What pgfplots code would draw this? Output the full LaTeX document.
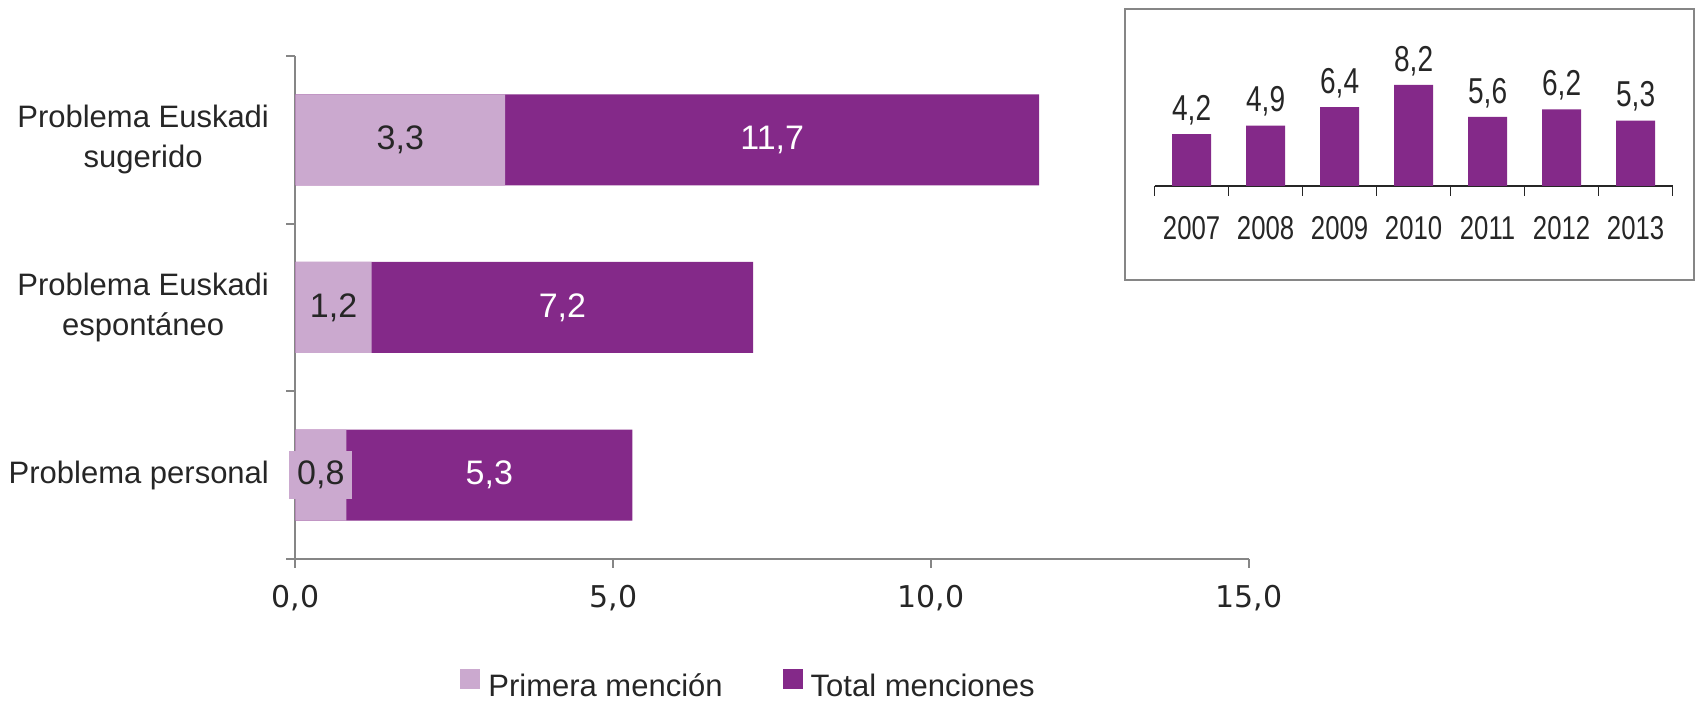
\documentclass[border=0pt]{standalone}
\usepackage{fontspec}
\setmainfont{Liberation Sans}
\newfontfamily\cond{Liberation Sans}[FakeStretch=0.78]
\newfontfamily\dvs{DejaVu Sans}
\usepackage{pgfplots}
\usepackage{pgfplotstable}
\pgfplotsset{compat=1.18}
\pgfkeys{/pgf/number format/.cd, use comma, fixed, fixed zerofill, precision=1, assume math mode=true}

\definecolor{moradoOsc}{RGB}{132,41,137}
\definecolor{moradoCla}{RGB}{203,169,207}
\definecolor{ejeGris}{RGB}{134,134,134}
\definecolor{texto}{RGB}{38,38,38}

% menciones: primera y total
\pgfplotstableread{
y prim tot
0 0.8 5.3
1 1.2 7.2
2 3.3 11.7
}\menciones

% serie anual (recuadro)
\pgfplotstableread{
x val
0 4.2
1 4.9
2 6.4
3 8.2
4 5.6
5 6.2
6 5.3
}\serie

\begin{document}
\begin{tikzpicture}
\begin{axis}[
  at={(147.7pt,71pt)}, anchor=south west,
  scale only axis, width=476.8pt, height=251.5pt,
  xmin=0, xmax=15, ymin=-0.5, ymax=2.5,
  axis x line*=bottom, axis y line*=left,
  axis line style={draw=ejeGris, line width=0.9pt, -},
  tick style={draw=ejeGris, line width=0.9pt},
  tick align=outside, major tick length=4.5pt,
  xtick={0,5,10,15},
  xticklabel style={font=\dvs\fontsize{15}{18}\selectfont, text=texto, yshift=-5pt},
  ytick={-0.5,0.5,1.5,2.5}, yticklabels={},
  extra y ticks={0,1,2},
  extra y tick labels={Problema personal, {Problema Euskadi\\espontáneo}, {Problema Euskadi\\sugerido}},
  extra y tick style={major tick length=0pt, tick style={draw=none},
    yticklabel style={align=center, font=\fontsize{15.5}{20}\selectfont, text=texto, xshift=-9.7pt}},
  clip=false,
  legend columns=2,
  legend image code/.code={\fill[#1] (0pt,-1pt) rectangle (10pt,9pt);},
  legend style={draw=none, fill=none, inner sep=0pt, at={(0.1726,-0.2525)}, anchor=west,
    font=\fontsize{15.5}{18}\selectfont, text=texto, column sep=2pt,
    /tikz/every even column/.append style={column sep=28pt}},
]
\addplot[xbar, bar width=45.5pt, bar shift=0pt, fill=moradoOsc, draw=none, forget plot]
  table[x=tot, y=y] {\menciones};
\addplot[xbar, bar width=45.5pt, bar shift=0pt, fill=moradoCla, draw=none, forget plot]
  table[x=prim, y=y] {\menciones};
% etiquetas
\addplot[draw=none, mark=none, forget plot, nodes near coords, point meta=\thisrow{tot},
  every node near coord/.append style={anchor=center, text=white, font=\fontsize{17}{20}\selectfont}]
  table[x expr=(\thisrow{prim}+\thisrow{tot})/2, y=y] {\menciones};
\addplot[draw=none, mark=none, forget plot, nodes near coords, point meta=\thisrow{prim},
  every node near coord/.append style={anchor=center, text=texto, fill=moradoCla,
    inner xsep=4pt, inner ysep=5pt, font=\fontsize{17}{20}\selectfont}]
  table[x expr=\thisrow{prim}/2, y=y] {\menciones};
\addlegendimage{fill=moradoCla, draw=none}
\addlegendentry{Primera mención}
\addlegendimage{fill=moradoOsc, draw=none}
\addlegendentry{Total menciones}
\end{axis}

\draw[ejeGris, line width=1pt] (562.5pt,210.5pt) rectangle (847pt,346pt);

\begin{axis}[
  at={(577.3pt,257.5pt)}, anchor=south west,
  scale only axis, width=259pt, height=61.7pt,
  xmin=-0.5, xmax=6.5, ymin=0, ymax=10,
  axis x line*=bottom, axis y line=none,
  axis line style={draw=texto, line width=1pt, -},
  tick style={draw=texto, line width=0.8pt},
  tick align=outside, major tick length=5pt,
  xtick={-0.5,0.5,...,6.5}, xticklabels={},
  extra x ticks={0,1,2,3,4,5,6},
  extra x tick labels={2007,2008,2009,2010,2011,2012,2013},
  extra x tick style={major tick length=0pt, tick style={draw=none},
    xticklabel style={font=\cond\fontsize{16.5}{19}\selectfont, text=texto, yshift=-11.5pt}},
  clip=false,
]
\addplot[ybar, bar width=19.5pt, bar shift=0pt, fill=moradoOsc, draw=none,
  nodes near coords, point meta=y,
  every node near coord/.append style={font=\cond\fontsize{18}{21}\selectfont, text=texto, anchor=south, yshift=1pt}]
  table[x=x, y=val] {\serie};
\end{axis}

\pgfresetboundingbox
\path[use as bounding box] (0,0) rectangle (851.5pt,350.5pt);
\end{tikzpicture}
\end{document}
